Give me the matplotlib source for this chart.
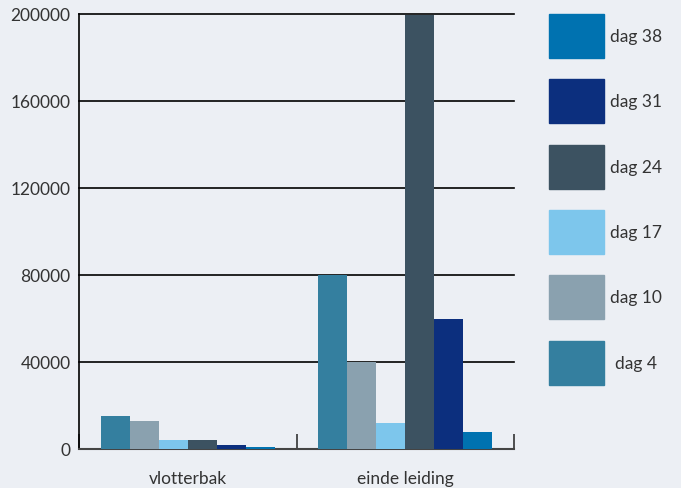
import numpy as np
import matplotlib.pyplot as plt
from matplotlib.patches import Rectangle

plt.rcParams['font.family'] = ['Lato', 'DejaVu Sans']

categories = ["vlotterbak", "einde leiding"]
series = ["dag 4", "dag 10", "dag 17", "dag 24", "dag 31", "dag 38"]
values = {
    "dag 4":  [15000, 80000],
    "dag 10": [13000, 40000],
    "dag 17": [4000, 12000],
    "dag 24": [4000, 200000],
    "dag 31": [2000, 60000],
    "dag 38": [1000, 8000],
}
colors = {
    "dag 4":  "#347f9f",
    "dag 10": "#8aa1af",
    "dag 17": "#7dc6ec",
    "dag 24": "#3c5261",
    "dag 31": "#0c2f7e",
    "dag 38": "#0072b0",
}
yticks = [0, 40000, 80000, 120000, 160000, 200000]

BG = "#eceff4"
TXT = "#333333"
FS = 12.5

fig = plt.figure(figsize=(6.81, 4.88), dpi=100, facecolor=BG)
ax = fig.add_axes([79 / 681, 39 / 488, 435 / 681, 434.5 / 488])
ax.set_facecolor(BG)

n = len(series)
group_w = 0.8
bw = group_w / n
x = np.arange(len(categories)) + 0.5
for i, s in enumerate(series):
    ax.bar(x - group_w / 2 + bw * (i + 0.5), values[s], width=bw, color=colors[s], zorder=3)

ax.set_xlim(0, 2)
ax.set_ylim(0, 200000)
ax.set_yticks(yticks)
ax.set_yticklabels([str(v) for v in yticks], fontsize=FS, color=TXT)
ax.tick_params(axis="y", length=0, pad=6)
for v in yticks[1:]:
    ax.axhline(v, color="black", lw=1.2, zorder=2, clip_on=False)

ax.set_xticks([0, 1, 2])
ax.set_xticklabels([])
ax.tick_params(axis="x", direction="in", length=11, width=1.2, color="#333333")
ax.set_xticks(x, minor=True)
ax.set_xticklabels(categories, minor=True, fontsize=FS, color=TXT)
ax.tick_params(axis="x", which="minor", length=0, pad=16)

for sp in ["top", "right"]:
    ax.spines[sp].set_visible(False)
ax.spines["left"].set_color("black")
ax.spines["left"].set_linewidth(1.2)
ax.spines["bottom"].set_color("#444444")
ax.spines["bottom"].set_linewidth(1.5)

# legend drawn as big swatches on the right
leg = fig.add_axes([0, 0, 1, 1], facecolor="none")
leg.set_xlim(0, 681)
leg.set_ylim(488, 0)
leg.axis("off")
for j, s in enumerate(reversed(series)):
    y0 = 14 + j * 65.3
    leg.add_patch(Rectangle((549, y0), 55, 44, color=colors[s]))
    leg.text(610 if s != "dag 4" else 615, y0 + 23, s, fontsize=FS, color=TXT, va="center", ha="left")

fig.savefig("out.png", dpi=100, facecolor=BG)
